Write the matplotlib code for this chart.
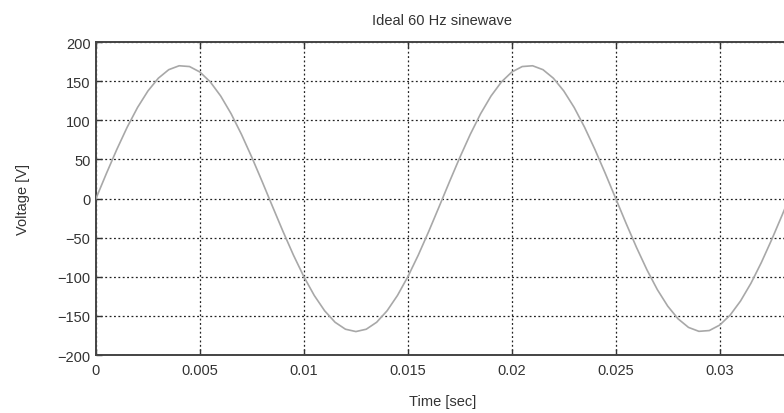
import matplotlib
matplotlib.use("Agg")
import matplotlib.pyplot as plt

# samples (0.5 ms spacing)
time_s = [0.0000, 0.0005, 0.0010, 0.0015, 0.0020, 0.0025, 0.0030, 0.0035,
          0.0040, 0.0045, 0.0050, 0.0055, 0.0060, 0.0065, 0.0070, 0.0075,
          0.0080, 0.0085, 0.0090, 0.0095, 0.0100, 0.0105, 0.0110, 0.0115,
          0.0120, 0.0125, 0.0130, 0.0135, 0.0140, 0.0145, 0.0150, 0.0155,
          0.0160, 0.0165, 0.0170, 0.0175, 0.0180, 0.0185, 0.0190, 0.0195,
          0.0200, 0.0205, 0.0210, 0.0215, 0.0220, 0.0225, 0.0230, 0.0235,
          0.0240, 0.0245, 0.0250, 0.0255, 0.0260, 0.0265, 0.0270, 0.0275,
          0.0280, 0.0285, 0.0290, 0.0295, 0.0300, 0.0305, 0.0310, 0.0315,
          0.0320, 0.0325, 0.0330, 0.0335]
voltage = [0.0, 31.9, 62.6, 91.1, 116.4, 137.5, 153.8, 164.7,
           169.7, 168.7, 161.7, 149.0, 131.0, 108.4, 81.9, 52.5,
           21.3, -10.7, -42.3, -72.4, -99.9, -123.9, -143.5, -158.1,
           -167.0, -170.0, -167.0, -158.1, -143.5, -123.9, -99.9, -72.4,
           -42.3, -10.7, 21.3, 52.5, 81.9, 108.4, 131.0, 149.0,
           161.7, 168.7, 169.7, 164.7, 153.8, 137.5, 116.4, 91.1,
           62.6, 31.9, 0.0, -31.9, -62.6, -91.1, -116.4, -137.5,
           -153.8, -164.7, -169.7, -168.7, -161.7, -149.0, -131.0, -108.4,
           -81.9, -52.5, -21.3, 10.7]

xticks = [0, 0.005, 0.01, 0.015, 0.02, 0.025, 0.03]
xtick_labels = ["0", "0.005", "0.01", "0.015", "0.02", "0.025", "0.03"]
yticks = [-200, -150, -100, -50, 0, 50, 100, 150, 200]

plt.rcParams["font.family"] = ["Liberation Sans", "DejaVu Sans"]
txt = "#333333"

fig = plt.figure(figsize=(7.84, 4.14), dpi=100)
ax = fig.add_axes([0.1224, 0.140, 0.884, 0.756])

ax.plot(time_s, voltage, color="#a8a8a8", linewidth=1.2, zorder=3)

ax.set_xlim(0, 1 / 30)
ax.set_ylim(-200, 200)
ax.set_xticks(xticks)
ax.set_xticklabels(xtick_labels)
ax.set_yticks(yticks)

ax.grid(True, color="#222222", linestyle=(0, (1.5, 2.0)), linewidth=0.9)
ax.tick_params(direction="in", length=4, width=1, colors="#333333",
               labelcolor=txt, labelsize=10.5, top=True, right=True)
ax.tick_params(axis="x", pad=6)
ax.tick_params(axis="y", pad=4)
for s in ax.spines.values():
    s.set_linewidth(1.4)
    s.set_color("#444444")

ax.set_title("Ideal 60 Hz sinewave", fontsize=10.5, color=txt, pad=13)
ax.set_xlabel("Time [sec]", fontsize=10.5, color=txt, labelpad=12)
ax.set_ylabel("Voltage [V]", fontsize=10.5, color=txt, labelpad=20)

fig.savefig("out.png", dpi=100)
